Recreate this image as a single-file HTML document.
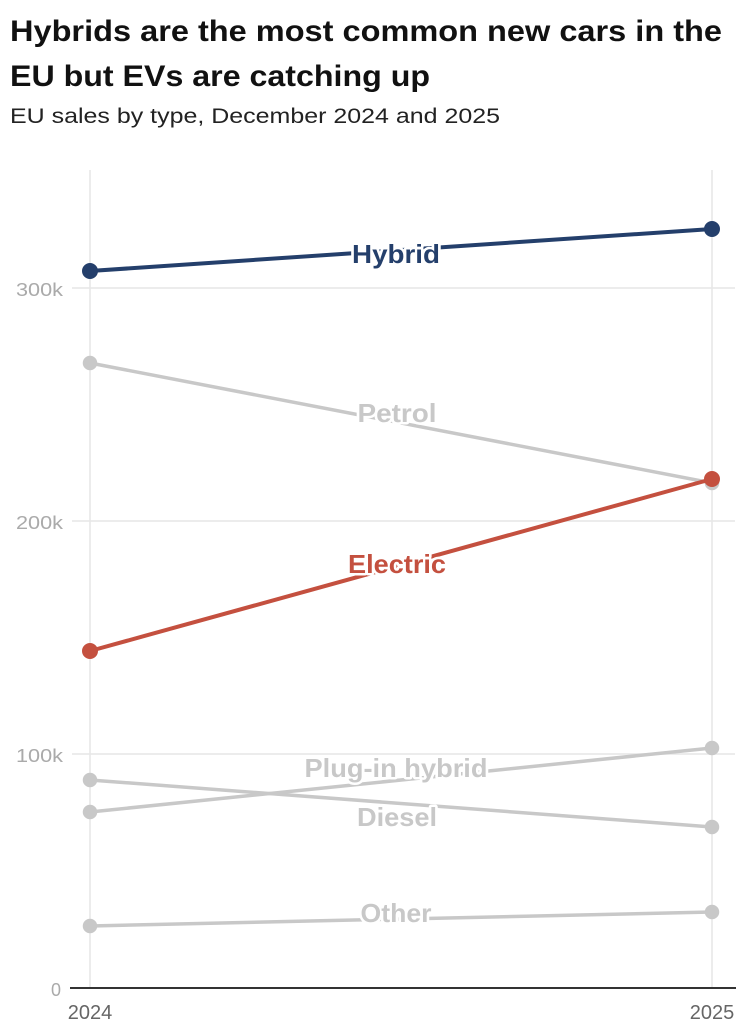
<!DOCTYPE html>
<html><head><meta charset="utf-8"><style>
body{margin:0;background:#fff;width:741px;height:1024px;overflow:hidden}
</style></head><body>
<svg width="741" height="1024" xmlns="http://www.w3.org/2000/svg" font-family="'Liberation Sans Narrow','Liberation Sans',sans-serif">
<text x="10" y="41" font-size="30" font-weight="bold" fill="#111" textLength="712" lengthAdjust="spacingAndGlyphs">Hybrids are the most common new cars in the</text>
<text x="10" y="86" font-size="30" font-weight="bold" fill="#111" textLength="420" lengthAdjust="spacingAndGlyphs">EU but EVs are catching up</text>
<text x="10" y="123" font-size="21" fill="#222" textLength="490" lengthAdjust="spacingAndGlyphs">EU sales by type, December 2024 and 2025</text>
<g stroke="#e6e6e6" stroke-width="1.5">
<line x1="90" y1="170" x2="90" y2="988"/><line x1="712" y1="170" x2="712" y2="988"/>
<line x1="72" y1="288" x2="735" y2="288"/><line x1="72" y1="521" x2="735" y2="521"/><line x1="72" y1="754" x2="735" y2="754"/>
</g>
<line x1="70" y1="988" x2="736" y2="988" stroke="#333" stroke-width="2"/>
<g font-size="18" fill="#aaa" text-anchor="end">
<text x="63" y="296" textLength="47" lengthAdjust="spacingAndGlyphs">300k</text><text x="63" y="529" textLength="47" lengthAdjust="spacingAndGlyphs">200k</text><text x="63" y="762" textLength="47" lengthAdjust="spacingAndGlyphs">100k</text><text x="61" y="996">0</text>
</g>
<g font-size="20" fill="#666" text-anchor="middle"><text x="90" y="1019">2024</text><text x="712" y="1019">2025</text></g>
<g stroke="#c8c8c8" stroke-width="3.5" fill="#c8c8c8">
<line x1="90" y1="363" x2="712" y2="483"/><circle cx="90" cy="363" r="5.5"/><circle cx="712" cy="483" r="5.5"/>
<line x1="90" y1="812" x2="712" y2="748"/><circle cx="90" cy="812" r="5.5"/><circle cx="712" cy="748" r="5.5"/>
<line x1="90" y1="780" x2="712" y2="827"/><circle cx="90" cy="780" r="5.5"/><circle cx="712" cy="827" r="5.5"/>
<line x1="90" y1="926" x2="712" y2="912"/><circle cx="90" cy="926" r="5.5"/><circle cx="712" cy="912" r="5.5"/>
</g>
<g stroke="#c4503f" stroke-width="4" fill="#c4503f"><line x1="90" y1="651" x2="712" y2="479"/><circle cx="90" cy="651" r="6"/><circle cx="712" cy="479" r="6"/></g>
<g stroke="#243f6b" stroke-width="4" fill="#243f6b"><line x1="90" y1="271" x2="712" y2="229"/><circle cx="90" cy="271" r="6"/><circle cx="712" cy="229" r="6"/></g>
<g font-size="26" font-weight="bold" text-anchor="middle" stroke="#fff" stroke-width="5" paint-order="stroke" stroke-linejoin="round">
<text x="396" y="263" fill="#243f6b" textLength="88" lengthAdjust="spacingAndGlyphs">Hybrid</text>
<text x="397" y="422" fill="#c8c8c8" textLength="79" lengthAdjust="spacingAndGlyphs">Petrol</text>
<text x="397" y="573" fill="#c4503f" textLength="98" lengthAdjust="spacingAndGlyphs">Electric</text>
<text x="396" y="777" fill="#c8c8c8" textLength="183" lengthAdjust="spacingAndGlyphs">Plug-in hybrid</text>
<text x="397" y="826" fill="#c8c8c8" textLength="80" lengthAdjust="spacingAndGlyphs">Diesel</text>
<text x="396" y="922" fill="#c8c8c8" textLength="71" lengthAdjust="spacingAndGlyphs">Other</text>
</g>
</svg>
</body></html>
